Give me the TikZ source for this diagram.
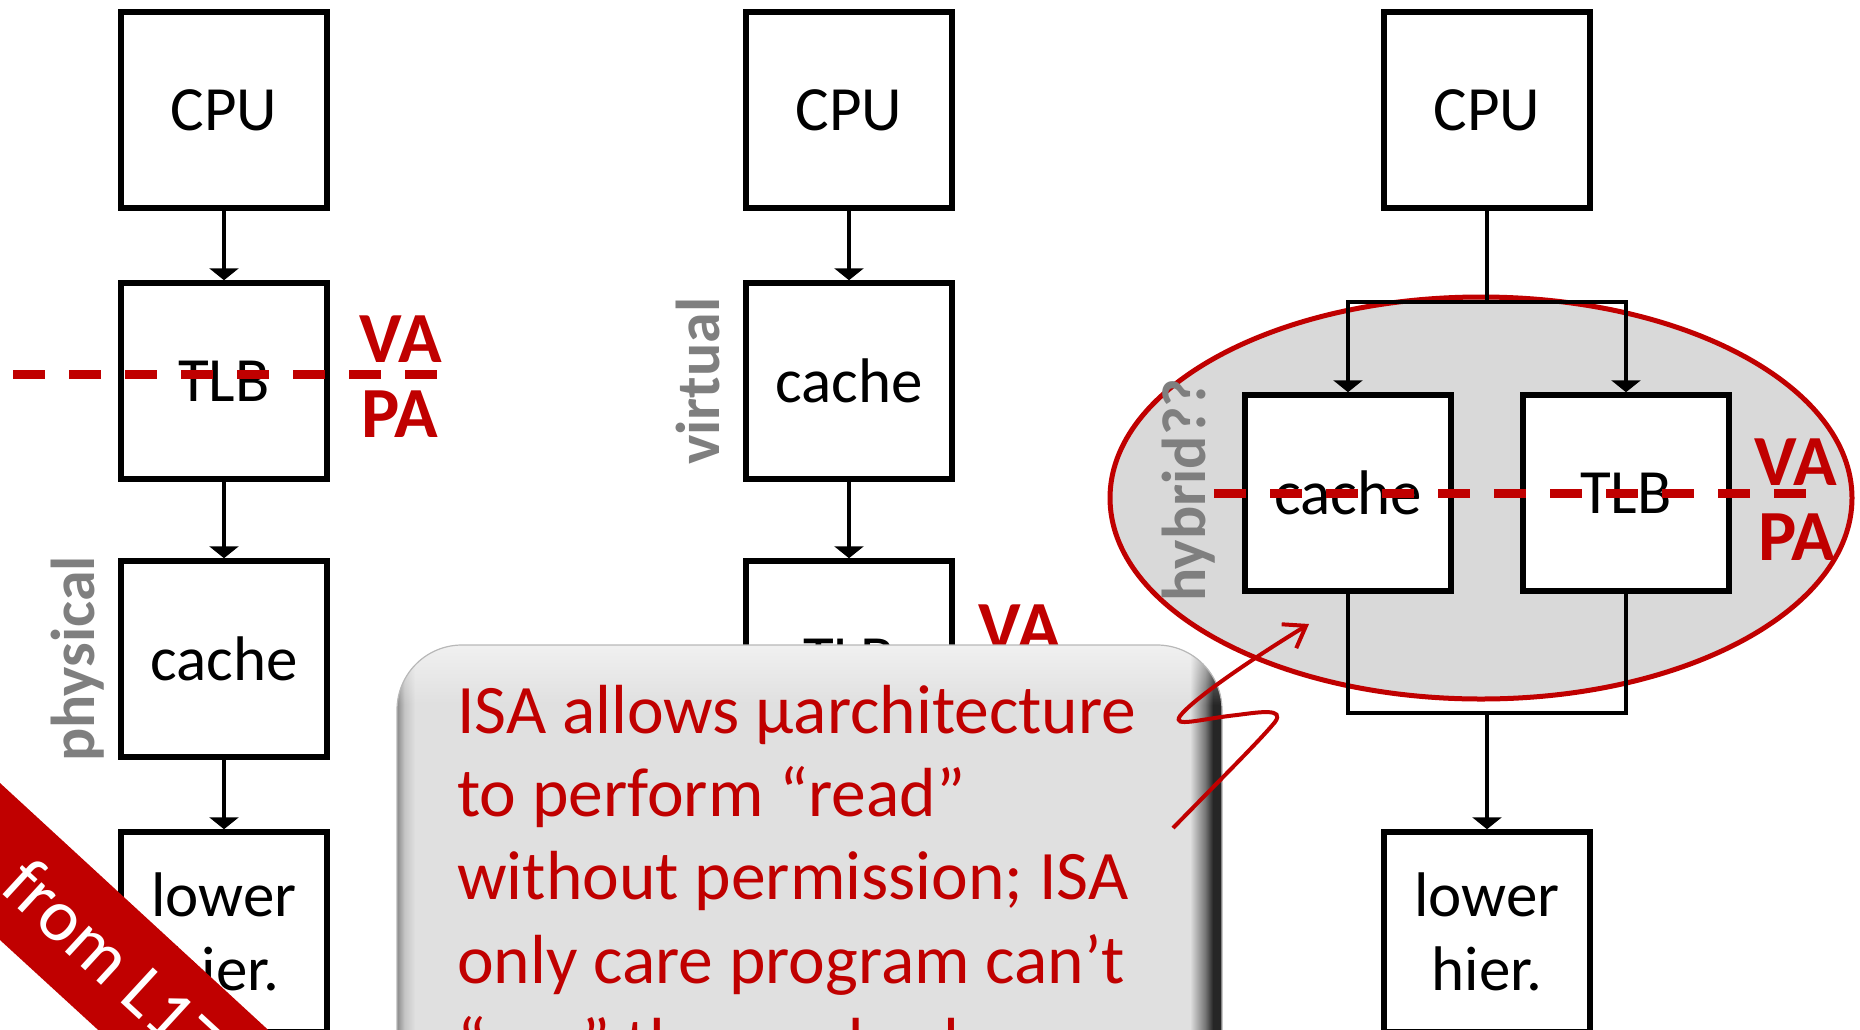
\documentclass[tikz,border=0pt]{standalone}
\usepackage{fontspec}
\setmainfont{Carlito}
\usetikzlibrary{arrows.meta,fadings}

\definecolor{slidered}{HTML}{C00000}
\definecolor{labelgray}{HTML}{7F7F7F}
\definecolor{ovalfill}{HTML}{D9D9D9}
\definecolor{calloutfill}{HTML}{E0E0E0}
\definecolor{bvleft}{HTML}{8A8A8A}
\definecolor{bvleftmid}{HTML}{C4C4C4}
\definecolor{bvrightmid}{HTML}{767676}
\definecolor{bvright}{HTML}{262626}

% bevelled side edges of the callout panel
\pgfdeclarehorizontalshading{bevelside}{100bp}{%
  color(0bp)=(bvleft); color(25bp)=(bvleft); color(25.45bp)=(bvleftmid);
  color(26.1bp)=(calloutfill); color(73.06bp)=(calloutfill);
  color(73.97bp)=(bvrightmid); color(74.45bp)=(bvright);
  color(75bp)=(bvright); color(100bp)=(bvright)}
\tikzfading[name=topglow, top color=transparent!45, bottom color=transparent!100]

\begin{document}
\begin{tikzpicture}[x=1pt,y=-1pt,
  unit/.style={draw, line width=5.5pt, fill=white, minimum width=206pt,
    minimum height=196pt, inner sep=0pt, align=center,
    font=\fontsize{63}{74}\selectfont},
  flow/.style={line width=4pt, -{Triangle[width=29pt,length=12pt]}},
  wire/.style={line width=4pt},
  sidetag/.style={text=labelgray, font=\bfseries\fontsize{62}{62}\selectfont,
    rotate=90, inner sep=0pt},
  addr/.style={text=slidered, font=\bfseries\fontsize{72}{72}\selectfont, inner sep=0pt},
  boundary/.style={draw=slidered, line width=9pt, dash pattern=on 32pt off 24pt},
  note/.style={text=slidered, font=\fontsize{69.5}{83}\selectfont, inner sep=0pt,
    anchor=base west},
]
\path[use as bounding box] (0,0) rectangle (1860,1029);
\clip (0,0) rectangle (1860,1029);

% hybrid region behind the parallel lookup
\filldraw[fill=ovalfill, draw=slidered, line width=5pt]
  (1481,498) ellipse [x radius=371, y radius=201];

% physically addressed cache
\node[unit] (pcpu) at (224,110) {CPU};
\node[unit] (ptlb) at (224,381) {TLB};
\node[unit] (pcache) at (224,659) {cache};
\node[unit, minimum height=200pt] (plow) at (224,932) {lower\\hier.};
\draw[flow] (pcpu) -- (ptlb);
\draw[flow] (ptlb) -- (pcache);
\draw[flow] (pcache) -- (plow);
\node[sidetag] (ptag) at (78,659) {physical};

% virtually addressed cache
\node[unit] (vcpu) at (849,110) {CPU};
\node[unit] (vcache) at (849,381) {cache};
\node[unit] (vtlb) at (849,659) {TLB};
\draw[flow] (vcpu) -- (vcache);
\draw[flow] (vcache) -- (vtlb);
\node[sidetag] (vtag) at (698,381) {virtual};
\node[addr] (vva) at (1020,628) {VA};

% cache and TLB looked up in parallel
\node[unit] (hcpu) at (1487,110) {CPU};
\node[unit] (hcache) at (1348,493) {cache};
\node[unit] (htlb) at (1626,493) {TLB};
\node[unit, minimum height=200pt] (hlow) at (1487,932) {lower\\hier.};
\coordinate (hsplit) at (1487,302);
\coordinate (hjoin) at (1487,713);
\draw[wire] (hcpu) -- (hsplit);
\draw[flow] (hsplit) -| (hcache.north);
\draw[flow] (hsplit) -| (htlb.north);
\draw[wire] (hcache.south) |- (hjoin);
\draw[wire] (htlb.south) |- (hjoin);
\draw[flow] (hjoin) -- (hlow);
\node[sidetag] (htag) at (1189,490) {hybrid??};

% VA / PA boundaries
\coordinate (pbl) at (13,374);
\coordinate (pbr) at (437,374);
\draw[boundary] (pbl) -- (pbr);
\node[addr] (pva) at (401,339) {VA};
\node[addr] (ppa) at (400,414) {PA};
\coordinate (hbl) at (1214,493);
\coordinate (hbr) at (1807,493);
\draw[boundary] (hbl) -- (hbr);
\node[addr] (hva) at (1796,462) {VA};
\node[addr] (hpa) at (1797,537) {PA};

% callout panel
\shade[shading=bevelside, rounded corners=65pt] (397,645) rectangle (1222,1100);
\begin{scope}
  \clip[rounded corners=65pt] (397,645) rectangle (1222,1100);
  \fill[white, path fading=topglow] (397,645) rectangle (1222,705);
\end{scope}
\draw[black!28, line width=1.2pt, rounded corners=65pt] (397,645) rectangle (1222,1100);
\node[note] (n1) at (457,733) {ISA allows μarchitecture};
\node[note] (n2) at (457,816) {to perform “read”};
\node[note] (n3) at (457,899) {without permission; ISA};
\node[note] (n4) at (457,983) {only care program can’t};
\node[note] (n5) at (457,1066) {“see” the read value};

% pointer from the callout into the hybrid region
\coordinate (sqs) at (1173,828);
\coordinate (sqe) at (1309,624);
\draw[slidered, line width=4pt, -{Straight Barb[length=20pt,width=28pt]}]
  (sqs) .. controls (1225,775) and (1262,738) .. (1275,722)
        .. controls (1285,708) and (1260,712) .. (1237,715)
        .. controls (1200,719) and (1172,728) .. (1180,716)
        .. controls (1192,700) and (1250,660) .. (sqe);

% corner ribbon
\fill[slidered] (0,783) -- (290,1050) -- (120,1050) -- (0,940) -- cycle;
\node[text=white, font=\fontsize{74}{74}\selectfont, rotate=-42.6,
  anchor=base west, inner sep=0pt] (ribbon) at (-2,890) {from L17};
\end{tikzpicture}
\end{document}
